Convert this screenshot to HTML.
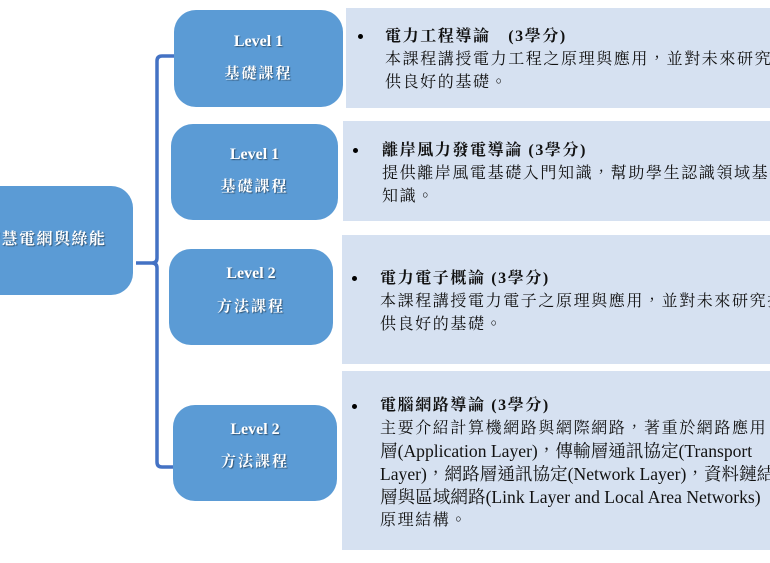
<!DOCTYPE html>
<html><head><meta charset="utf-8"><style>
html,body{margin:0;padding:0;width:770px;height:563px;overflow:hidden;background:#fff;position:relative}
.b{position:absolute;background:#5b9bd5;border-radius:22px;color:#fff;font-family:"Liberation Serif","Noto Serif CJK TC","Noto Serif CJK SC",serif;font-weight:bold;text-align:center;text-shadow:1px 1px 1px rgba(0,0,0,.45)}
.b .l1{position:absolute;left:0;right:0;font-size:16px}
.b .l2{position:absolute;left:0;right:0;font-size:15px;letter-spacing:2px}
.p{position:absolute;background:#d6e1f1;overflow:hidden;font-family:"Liberation Serif","Noto Serif CJK TC","Noto Serif CJK SC",serif;font-size:16px;color:#111;white-space:nowrap}
.p div{position:absolute;line-height:23px;letter-spacing:1.6px}
.p .t{font-weight:bold}
.p .m{font-size:17.6px;letter-spacing:0}
.p .dot{position:absolute;width:5px;height:5px;border-radius:3px;background:#000}
</style></head><body>
<svg width="770" height="563" style="position:absolute;left:0;top:0">
<path d="M174 56 L162 56 Q157 56 157 61 L157 258 Q157 263 152 263 L136 263 M152 263 Q157 263 157 268 L157 462 Q157 467 162 467 L174 467" fill="none" stroke="#4472c4" stroke-width="3.5"/>
</svg>
<div class="b" style="left:-30px;top:186px;width:163px;height:109px">
<div class="l2" style="top:40px;text-align:left;left:14px;font-size:16px;letter-spacing:1.5px">智慧電網與綠能</div></div>
<div class="b" style="left:174px;top:10px;width:169px;height:97px"><div class="l1" style="top:23px">Level 1</div><div class="l2" style="top:52px">基礎課程</div></div>
<div class="b" style="left:171px;top:124px;width:167px;height:96px"><div class="l1" style="top:22px">Level 1</div><div class="l2" style="top:51px">基礎課程</div></div>
<div class="b" style="left:169px;top:249px;width:164px;height:96px"><div class="l1" style="top:16px">Level 2</div><div class="l2" style="top:46px">方法課程</div></div>
<div class="b" style="left:173px;top:405px;width:164px;height:96px"><div class="l1" style="top:16px">Level 2</div><div class="l2" style="top:45px">方法課程</div></div>

<div class="p" style="left:346px;top:8px;width:424px;height:100px">
<span class="dot" style="left:12px;top:26px"></span>
<div class="t" style="left:39px;top:17px">電力工程導論　(3學分)</div>
<div style="left:39px;top:40px">本課程講授電力工程之原理與應用，並對未來研究提</div>
<div style="left:39px;top:63px">供良好的基礎。</div></div>

<div class="p" style="left:343px;top:121px;width:427px;height:100px">
<span class="dot" style="left:10px;top:27px"></span>
<div class="t" style="left:39px;top:18px">離岸風力發電導論 (3學分)</div>
<div style="left:39px;top:41px">提供離岸風電基礎入門知識，幫助學生認識領域基礎</div>
<div style="left:39px;top:64px">知識。</div></div>

<div class="p" style="left:342px;top:235px;width:428px;height:129px">
<span class="dot" style="left:10px;top:41px"></span>
<div class="t" style="left:38px;top:32px">電力電子概論 (3學分)</div>
<div style="left:38px;top:55px">本課程講授電力電子之原理與應用，並對未來研究提</div>
<div style="left:38px;top:78px">供良好的基礎。</div></div>

<div class="p" style="left:342px;top:371px;width:428px;height:179px">
<span class="dot" style="left:10px;top:33px"></span>
<div class="t" style="left:38px;top:23px">電腦網路導論 (3學分)</div>
<div style="left:38px;top:46px">主要介紹計算機網路與網際網路，著重於網路應用</div>
<div class="m" style="left:38px;top:69px">層(Application Layer)，傳輸層通訊協定(Transport</div>
<div class="m" style="left:38px;top:92px">Layer)，網路層通訊協定(Network Layer)，資料鏈結</div>
<div class="m" style="left:38px;top:115px">層與區域網路(Link Layer and Local Area Networks)</div>
<div style="left:38px;top:138px">原理結構。</div></div>
</body></html>
